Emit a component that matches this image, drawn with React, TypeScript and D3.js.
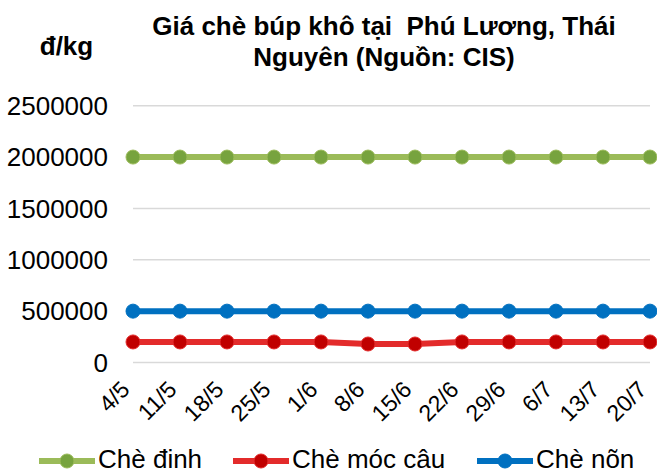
import React from "react";
import * as d3 from "d3";

const categories = ["4/5", "11/5", "18/5", "25/5", "1/6", "8/6", "15/6", "22/6", "29/6", "6/7", "13/7", "20/7"];
const cheDinh = [2000000, 2000000, 2000000, 2000000, 2000000, 2000000, 2000000, 2000000, 2000000, 2000000, 2000000, 2000000];
const cheMocCau = [200000, 200000, 200000, 200000, 200000, 180000, 180000, 200000, 200000, 200000, 200000, 200000];
const cheNon = [500000, 500000, 500000, 500000, 500000, 500000, 500000, 500000, 500000, 500000, 500000, 500000];
const yTicks = [0, 500000, 1000000, 1500000, 2000000, 2500000];
const seriesNames = ["Chè đinh", "Chè móc câu", "Chè nõn"];

const W = 657, H = 470;
const FONT = "'Liberation Sans', Arial, sans-serif";

export default function App() {
  const x = d3.scalePoint<string>().domain(categories).range([133, 650]);
  const cx = (c: string) => x(c) as number;
  const y = d3.scaleLinear().domain([0, 2500000]).range([362.5, 105.7]);
  const line = d3.line<number>().x((_, i) => cx(categories[i])).y((d) => y(d));

  const series = [
    { name: seriesNames[0], data: cheDinh, line: "#9BBB59", marker: "#77A33E" },
    { name: seriesNames[1], data: cheMocCau, line: "#E32B2B", marker: "#C00000" },
    { name: seriesNames[2], data: cheNon, line: "#0070C0", marker: "#0070C0" },
  ];
  const legendX = [39, 233, 477];

  return (
    <svg width={W} height={H} style={{ position: "absolute", left: 0, top: 0 }} fontFamily={FONT}>
      <rect width={W} height={H} fill="#fff" />
      {yTicks.map((t) => (
        <g key={t}>
          <line x1={133} x2={650} y1={y(t)} y2={y(t)} stroke="#d9d9d9" strokeWidth={1.5} />
          <text x={108} y={y(t)} dy="0.35em" textAnchor="end" fontSize={26} fill="#000">{t}</text>
        </g>
      ))}
      <text x={66.5} y={54.5} textAnchor="middle" fontSize={26} fontWeight="bold">đ/kg</text>
      <text x={384} y={35} textAnchor="middle" fontSize={26} fontWeight="bold" style={{ whiteSpace: "pre" }}>Giá chè búp khô tại  Phú Lương, Thái</text>
      <text x={384} y={65.7} textAnchor="middle" fontSize={26} fontWeight="bold">Nguyên (Nguồn: CIS)</text>
      {categories.map((c) => (
        <text key={c} transform={`translate(${cx(c) - 2},${391}) rotate(-45)`} textAnchor="end" fontSize={23} fill="#000">{c}</text>
      ))}
      {series.map((s) => (
        <g key={s.name}>
          <path d={line(s.data) as string} fill="none" stroke={s.line} strokeWidth={6} />
          {s.data.map((v, i) => (
            <circle key={i} cx={cx(categories[i])} cy={y(v)} r={7} fill={s.marker} stroke={s.line} strokeWidth={1} />
          ))}
        </g>
      ))}
      {series.map((s, i) => (
        <g key={"lg" + s.name}>
          <line x1={legendX[i]} x2={legendX[i] + 56} y1={461} y2={461} stroke={s.line} strokeWidth={6} />
          <circle cx={legendX[i] + 28} cy={461} r={7} fill={s.marker} stroke={s.line} strokeWidth={1} />
          <text x={legendX[i] + 59} y={468} fontSize={26} fill="#000">{s.name}</text>
        </g>
      ))}
    </svg>
  );
}
